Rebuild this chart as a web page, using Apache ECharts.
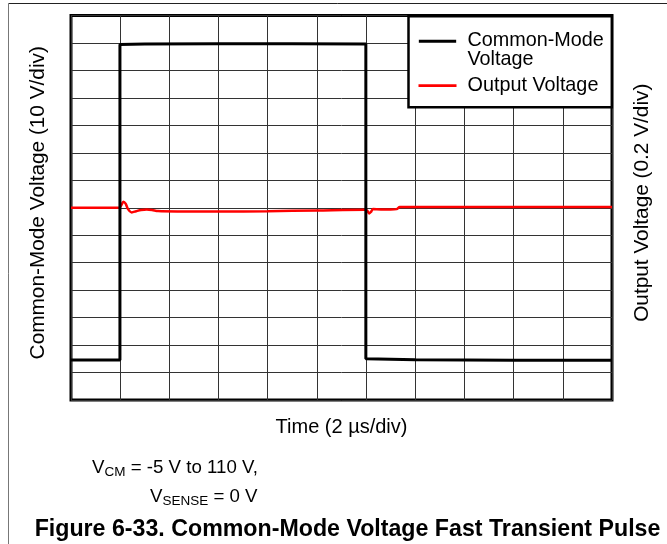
<!DOCTYPE html>
<html>
<head>
<meta charset="utf-8">
<script src="https://cdn.jsdelivr.net/npm/echarts@6/dist/echarts.min.js"></script>
<style>
html,body{margin:0;padding:0;background:#fff;}
#chart{width:667px;height:544px;}
</style>
</head>
<body>
<div id="chart"></div>
<script>
// ---- data ----
var seriesNames = ['Common-Mode Voltage', 'Output Voltage'];
// Common-mode voltage trace (time in µs, volts)
var cmTime = [0, 1.99, 1.99, 3.0, 6.0, 9.0, 11.99, 11.99, 14.0, 18.0, 22.0];
var cmVolt = [-5.4, -5.4, 109.4, 109.6, 109.7, 109.7, 109.6, -5.0, -5.3, -5.5, -5.5];
// Output voltage trace (time in µs, volts)
var outTime = [0, 1.0, 1.95, 2.05, 2.13, 2.22, 2.32, 2.47, 2.65, 2.85, 3.08, 3.3, 3.54, 4.5, 6.0, 8.0, 10.0, 11.95, 12.05, 12.13, 12.2, 12.28, 12.6, 13.0, 13.24, 13.37, 14.5, 17.0, 20.0, 22.0];
var outVolt = [0, 0, 0, 0.02, 0.044, 0.03, -0.01, -0.034, -0.025, -0.016, -0.012, -0.016, -0.024, -0.027, -0.028, -0.025, -0.02, -0.015, -0.022, -0.041, -0.03, -0.01, -0.012, -0.012, -0.01, 0.006, 0.006, 0.005, 0.005, 0.005];
// axis scales
var xMin = 0, xMax = 22, xStep = 2;
var cmMin = -20, cmMax = 120, cmStep = 10;
var outMin = -1.4, outMax = 1.4, outStep = 0.2;

function pairs(xs, ys) { return xs.map(function (x, i) { return [x, ys[i]]; }); }

var FONT = '"Liberation Sans", Arial, sans-serif';
var chart = echarts.init(document.getElementById('chart'), null, {renderer: 'canvas'});
var option = {
  backgroundColor: '#fff',
  animation: false,
  textStyle: {fontFamily: FONT, color: '#000'},
  grid: {left: 71, right: 55, top: 15.5, bottom: 144, outerBoundsMode: 'none', containLabel: false,
         show: true, borderColor: '#000', borderWidth: 3, backgroundColor: 'transparent'},
  legend: {
    left: 408.5, top: 16.3,
    orient: 'vertical',
    data: [
      {name: seriesNames[0], icon: 'path://M0,0L40,0L40,3L0,3ZM0,22.5L0,22.5'},
      {name: seriesNames[1], icon: 'path://M0,0L40,0L40,3L0,3Z'}
    ],
    formatter: function (n) { return n === seriesNames[0] ? 'Common-Mode\nVoltage' : n; },
    itemWidth: 38, itemHeight: 21, itemGap: 5.6,
    symbolKeepAspect: true,
    backgroundColor: '#fff', borderColor: '#000', borderWidth: 2.5,
    padding: [14.4, 8, 11.7, 10],
    textStyle: {fontFamily: FONT, fontSize: 19.8, lineHeight: 19.3, color: '#000', padding: [0, 0, 0, 6]},
    selectedMode: false
  },
  xAxis: {
    type: 'value', min: xMin, max: xMax, interval: xStep,
    name: 'Time (2 \u00b5s/div)', nameLocation: 'middle', nameGap: 17,
    nameTextStyle: {fontFamily: FONT, fontSize: 20, color: '#000'},
    axisLine: {show: false}, axisTick: {show: false}, axisLabel: {show: false},
    splitLine: {show: true, lineStyle: {color: '#333', width: 1}}
  },
  yAxis: [
    {
      type: 'value', min: cmMin, max: cmMax, interval: cmStep, position: 'left',
      name: 'Common-Mode Voltage (10 V/div)', nameLocation: 'middle', nameGap: 22, nameRotate: 90,
      nameTextStyle: {fontFamily: FONT, fontSize: 20.8, color: '#000', padding: [0, 0, 0, 10]},
      axisLine: {show: false}, axisTick: {show: false}, axisLabel: {show: false},
      splitLine: {show: true, lineStyle: {color: '#333', width: 1}}
    },
    {
      type: 'value', min: outMin, max: outMax, interval: outStep, position: 'right',
      name: 'Output Voltage (0.2 V/div)', nameLocation: 'middle', nameGap: 20, nameRotate: 90,
      nameTextStyle: {fontFamily: FONT, fontSize: 20.8, color: '#000', padding: [0, 0, 0, 10]},
      axisLine: {show: false}, axisTick: {show: false}, axisLabel: {show: false},
      splitLine: {show: false}
    }
  ],
  series: [
    {
      name: seriesNames[1], type: 'line', yAxisIndex: 1, showSymbol: false, symbol: 'none',
      data: pairs(outTime, outVolt), smooth: 0.3,
      color: '#ff0000',
      lineStyle: {color: '#ff0000', width: 2.5}
    },
    {
      name: seriesNames[0], type: 'line', yAxisIndex: 0, showSymbol: false, symbol: 'none',
      data: pairs(cmTime, cmVolt),
      color: '#000',
      lineStyle: {color: '#000', width: 3}
    }
  ],
  graphic: [
    {type: 'line', shape: {x1: 8.5, y1: 3.5, x2: 667, y2: 3.5}, style: {stroke: '#222', lineWidth: 1}},
    {type: 'line', shape: {x1: 8.5, y1: 3.5, x2: 8.5, y2: 544}, style: {stroke: '#777', lineWidth: 1}},
    {
      type: 'text', left: 92, top: 458,
      style: {
        text: '{v|V}{s|CM}{v| = -5 V to 110 V,}',
        rich: {
          v: {fontFamily: FONT, fontSize: 18.7, fill: '#000'},
          s: {fontFamily: FONT, fontSize: 13.5, fill: '#000', padding: [9, 0, 0, 0]}
        }
      }
    },
    {
      type: 'text', left: 150, top: 487,
      style: {
        text: '{v|V}{s|SENSE}{v| = 0 V}',
        rich: {
          v: {fontFamily: FONT, fontSize: 18.7, fill: '#000'},
          s: {fontFamily: FONT, fontSize: 13.5, fill: '#000', padding: [9, 0, 0, 0]}
        }
      }
    },
    {
      type: 'text', x: 347.5, y: 530,
      style: {
        text: 'Figure 6-33. Common-Mode Voltage Fast Transient Pulse',
        fontFamily: FONT, fontSize: 23.2, fontWeight: 'bold', fill: '#000',
        align: 'center', verticalAlign: 'middle'
      }
    }
  ]
};
chart.setOption(option);
</script>
</body>
</html>
